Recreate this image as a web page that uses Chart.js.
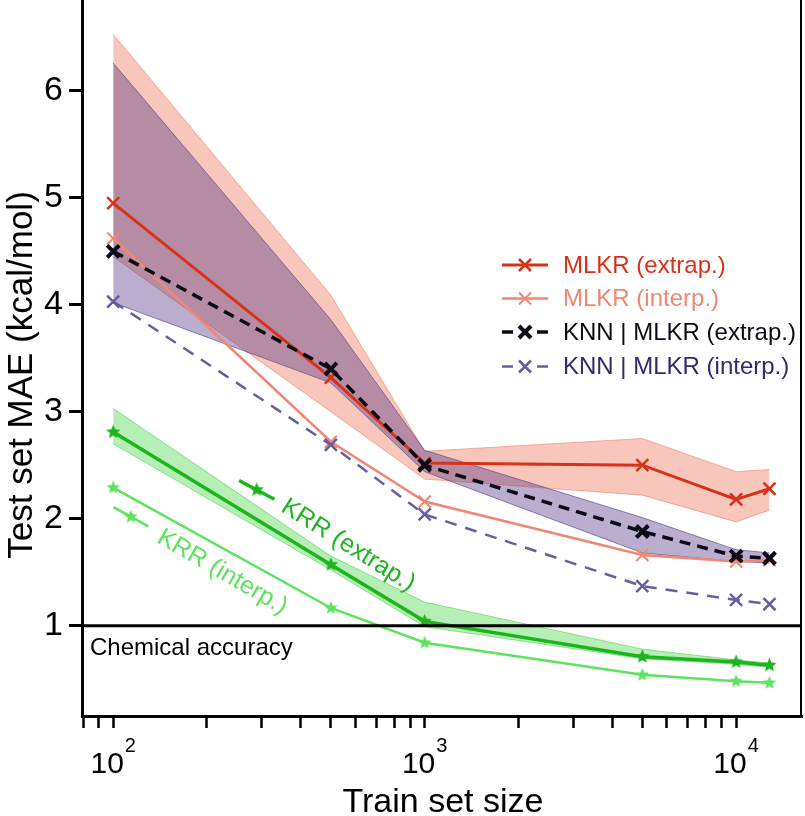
<!DOCTYPE html>
<html>
<head>
<meta charset="utf-8">
<script src="https://cdn.jsdelivr.net/npm/chart.js@4.4.1/dist/chart.umd.min.js"></script>
<style>
  html, body { margin: 0; padding: 0; background: #fff; }
</style>
</head>
<body>
<canvas id="myChart" width="805" height="816"></canvas>
<script>
// Train set sizes (x)
const trainSizes = [100, 500, 1000, 5000, 10000, 12800];

// Test set MAE (kcal/mol)
const mlkrExtrap   = [4.95, 3.32, 2.52, 2.50, 2.18, 2.28];
const mlkrExtrapLo = [4.45, 3.00, 2.37, 2.22, 1.97, 2.08];
const mlkrExtrapHi = [6.53, 4.09, 2.63, 2.75, 2.44, 2.46];
const mlkrInterp   = [4.62, 2.72, 2.16, 1.66, 1.60, 1.61];

const knnExtrap   = [4.50, 3.40, 2.50, 1.88, 1.65, 1.63];
const knnExtrapLo = [4.02, 3.27, 2.44, 1.68, 1.60, 1.585];
const knnExtrapHi = [6.26, 3.86, 2.64, 2.01, 1.71, 1.68];
const knnInterp   = [4.03, 2.69, 2.04, 1.37, 1.24, 1.20];

const krrExtrap   = [2.81, 1.57, 1.04, 0.71, 0.66, 0.63];
const krrExtrapLo = [2.70, 1.52, 0.99, 0.69, 0.64, 0.61];
const krrExtrapHi = [3.03, 1.65, 1.22, 0.78, 0.68, 0.65];
const krrInterp   = [2.29, 1.165, 0.84, 0.54, 0.48, 0.465];

// ticks
const xTicks = [80, 90, 100, 200, 300, 400, 500, 600, 700, 800, 900,
                1000, 2000, 3000, 4000, 5000, 6000, 7000, 8000, 9000, 10000];
const xMajor = [100, 1000, 10000];
const yTicks = [1, 2, 3, 4, 5, 6];
const chemAccuracy = 1;

const seriesNames = ['MLKR (extrap.)', 'MLKR (interp.)', 'KNN | MLKR (extrap.)', 'KNN | MLKR (interp.)'];
const krrNames = ['KRR (extrap.)', 'KRR (interp.)'];

const FONT = '"Liberation Sans", Arial, Helvetica, sans-serif';
const C = {
  red: '#d73219', salmon: '#f08773', black: '#0b0b16', navy: '#6460a0', navyText: '#2f2b6e',
  green: '#1db41d', lgreen: '#5fe35f'
};

function pts(arr) {
  return trainSizes.map((x, i) => ({ x: x, y: arr[i] }));
}

function makeStar(color, r) {
  const c = document.createElement('canvas');
  const s = Math.ceil(r * 2 + 2);
  c.width = s; c.height = s;
  const g = c.getContext('2d');
  g.fillStyle = color;
  g.beginPath();
  for (let i = 0; i < 10; i++) {
    const rr = i % 2 === 0 ? r : r * 0.45;
    const a = -Math.PI / 2 + i * Math.PI / 5;
    const px = s / 2 + rr * Math.cos(a), py = s / 2 + rr * Math.sin(a);
    if (i === 0) g.moveTo(px, py); else g.lineTo(px, py);
  }
  g.closePath();
  g.fill();
  return c;
}
const starDark = makeStar(C.green, 7.5);
const starLight = makeStar(C.lgreen, 7);

function band(data, edge, fill, order) {
  return {
    data: pts(data), borderColor: edge, borderWidth: 1, pointRadius: 0,
    backgroundColor: fill, fill: fill ? '-1' : false, tension: 0, order: order
  };
}

function line(data, color, width, dash, style, ptWidth, radius, order) {
  return {
    data: pts(data), borderColor: color, borderWidth: width, borderDash: dash,
    pointStyle: style, pointRadius: radius, pointBorderColor: color, pointBackgroundColor: color,
    pointBorderWidth: ptWidth, fill: false, tension: 0, order: order
  };
}

// inline labels for KRR (positions in data coordinates)
const inlineLabels = [
  { text: krrNames[0], color: C.green, star: starDark, lw: 3.5, hx: 289, hy: 2.27, tx: 568, ty: 1.75, ha: 28, ta: 32 },
  { text: krrNames[1], color: C.lgreen, star: starLight, lw: 2.5, hx: 114, hy: 2.018, tx: 224, ty: 1.50, ha: 29, ta: 30 }
];

const legendItems = [
  { text: seriesNames[0], color: C.red, textColor: C.red, lw: 3, mw: 2.5, dash: false },
  { text: seriesNames[1], color: C.salmon, textColor: C.salmon, lw: 2.5, mw: 2, dash: false },
  { text: seriesNames[2], color: C.black, textColor: C.black, lw: 3.5, mw: 4, dash: true },
  { text: seriesNames[3], color: C.navy, textColor: C.navyText, lw: 2.5, mw: 2.5, dash: true }
];

function drawX(ctx, cx, cy, h, color, w) {
  ctx.strokeStyle = color; ctx.lineWidth = w; ctx.setLineDash([]);
  ctx.beginPath();
  ctx.moveTo(cx - h, cy - h); ctx.lineTo(cx + h, cy + h);
  ctx.moveTo(cx + h, cy - h); ctx.lineTo(cx - h, cy + h);
  ctx.stroke();
}

const decor = {
  id: 'decor',
  afterDatasetsDraw(chart) {
    const ctx = chart.ctx, a = chart.chartArea, x = chart.scales.x, y = chart.scales.y;
    ctx.save();
    // chemical accuracy line
    const yc = y.getPixelForValue(chemAccuracy);
    ctx.strokeStyle = '#000'; ctx.lineWidth = 3;
    ctx.beginPath(); ctx.moveTo(a.left, yc); ctx.lineTo(a.right, yc); ctx.stroke();
    // right frame
    ctx.lineWidth = 2;
    ctx.beginPath(); ctx.moveTo(a.right - 1, a.top); ctx.lineTo(a.right - 1, a.bottom + 1.5); ctx.stroke();

    ctx.fillStyle = '#000';
    ctx.font = '24px ' + FONT;
    ctx.textAlign = 'left'; ctx.textBaseline = 'alphabetic';
    ctx.fillText('Chemical accuracy', a.left + 8, yc + 29);

    // KRR inline labels
    inlineLabels.forEach(l => {
      const hx = x.getPixelForValue(l.hx), hy = y.getPixelForValue(l.hy);
      const ang = l.ha * Math.PI / 180;
      ctx.strokeStyle = l.color; ctx.lineWidth = l.lw;
      ctx.beginPath();
      ctx.moveTo(hx - 20 * Math.cos(ang), hy - 20 * Math.sin(ang));
      ctx.lineTo(hx + 20 * Math.cos(ang), hy + 20 * Math.sin(ang));
      ctx.stroke();
      ctx.drawImage(l.star, hx - l.star.width / 2, hy - l.star.height / 2);
      const tx = x.getPixelForValue(l.tx), ty = y.getPixelForValue(l.ty);
      ctx.save();
      ctx.translate(tx, ty);
      ctx.rotate(l.ta * Math.PI / 180);
      ctx.fillStyle = l.color;
      ctx.font = '25px ' + FONT;
      ctx.textAlign = 'center'; ctx.textBaseline = 'middle';
      ctx.fillText(l.text, 0, 0);
      ctx.restore();
    });

    // legend
    const rows = [265, 298.5, 332, 366.5];
    legendItems.forEach((it, i) => {
      const cy = rows[i];
      ctx.strokeStyle = it.color; ctx.lineWidth = it.lw;
      ctx.beginPath();
      if (it.dash) {
        ctx.moveTo(502, cy); ctx.lineTo(513, cy);
        ctx.moveTo(537, cy); ctx.lineTo(548, cy);
      } else {
        ctx.moveTo(502, cy); ctx.lineTo(548, cy);
      }
      ctx.stroke();
      drawX(ctx, 525, cy, 6, it.color, it.mw);
      ctx.fillStyle = it.textColor;
      ctx.font = '24px ' + FONT;
      ctx.textAlign = 'left'; ctx.textBaseline = 'middle';
      ctx.fillText(it.text, 563, cy + 1);
    });
    ctx.restore();
  },
  afterDraw(chart) {
    const ctx = chart.ctx, a = chart.chartArea, x = chart.scales.x;
    ctx.save();
    ctx.fillStyle = '#000';
    ctx.textAlign = 'left'; ctx.textBaseline = 'alphabetic';
    // x tick labels 10^n
    xMajor.forEach(v => {
      const px = x.getPixelForValue(v);
      const e = String(Math.round(Math.log10(v)));
      ctx.font = '30px ' + FONT;
      const w1 = ctx.measureText('10').width;
      ctx.font = '20px ' + FONT;
      const w2 = ctx.measureText(e).width;
      const left = px - (w1 + w2 + 1) / 2;
      ctx.font = '30px ' + FONT;
      ctx.fillText('10', left, a.bottom + 57);
      ctx.font = '20px ' + FONT;
      ctx.fillText(e, left + w1 + 1, a.bottom + 36);
    });
    // axis titles
    ctx.font = '34px ' + FONT;
    ctx.textAlign = 'center';
    ctx.fillText('Train set size', (a.left + a.right) / 2 + 1, 812);
    ctx.font = '35px ' + FONT;
    ctx.translate(32, 375);
    ctx.rotate(-Math.PI / 2);
    ctx.fillText('Test set MAE (kcal/mol)', 0, 0);
    ctx.restore();
  }
};

const ctx = document.getElementById('myChart').getContext('2d');
new Chart(ctx, {
  type: 'line',
  data: {
    datasets: [
      band(mlkrExtrapLo, 'rgba(238,120,95,0.55)', null, 20),
      band(mlkrExtrapHi, 'rgba(238,120,95,0.55)', 'rgba(240,112,85,0.40)', 19),
      band(knnExtrapLo, 'rgba(70,62,140,0.6)', null, 18),
      band(knnExtrapHi, 'rgba(70,62,140,0.6)', 'rgba(90,60,135,0.42)', 17),
      band(krrExtrapLo, 'rgba(60,200,60,0.5)', null, 16),
      band(krrExtrapHi, 'rgba(60,200,60,0.5)', 'rgba(70,215,70,0.40)', 15),
      line(mlkrInterp, C.salmon, 2.5, [], 'crossRot', 2, 8.5, 6),
      line(knnInterp, C.navy, 2.5, [12, 9], 'crossRot', 2.5, 8.5, 5),
      line(krrInterp, C.lgreen, 2.5, [], starLight, 1, 7, 4),
      line(mlkrExtrap, C.red, 3, [], 'crossRot', 2.5, 8.5, 3),
      line(knnExtrap, C.black, 3.5, [11, 7], 'crossRot', 4, 8.5, 2),
      line(krrExtrap, C.green, 3.5, [], starDark, 1, 7.5, 1)
    ]
  },
  options: {
    responsive: false,
    animation: false,
    devicePixelRatio: 1,
    layout: { autoPadding: false, padding: { left: 0, right: 3, top: 0, bottom: 0 } },
    plugins: { legend: { display: false }, tooltip: { enabled: false } },
    scales: {
      x: {
        type: 'logarithmic', min: 79.4, max: 16280,
        afterBuildTicks: s => { s.ticks = xTicks.map(v => ({ value: v, major: xMajor.includes(v) })); },
        afterFit: s => { s.height = 100; s.paddingLeft = 0; s.paddingRight = 0; },
        grid: { display: true, drawOnChartArea: false, drawTicks: true, tickLength: 12, tickWidth: 2.5, tickColor: '#000' },
        border: { display: true, color: '#000', width: 3 },
        ticks: { display: false, autoSkip: false }
      },
      y: {
        type: 'linear', min: 0.155, max: 6.85,
        afterBuildTicks: s => { s.ticks = yTicks.map(v => ({ value: v })); },
        afterFit: s => { s.width = 82; s.paddingTop = 0; s.paddingBottom = 0; },
        grid: { display: true, drawOnChartArea: false, drawTicks: true, tickLength: 13, tickWidth: 3, tickColor: '#000' },
        border: { display: true, color: '#000', width: 3 },
        ticks: { autoSkip: false, color: '#000', padding: 6, font: { family: FONT, size: 34 } }
      }
    }
  },
  plugins: [decor]
});
</script>
</body>
</html>
